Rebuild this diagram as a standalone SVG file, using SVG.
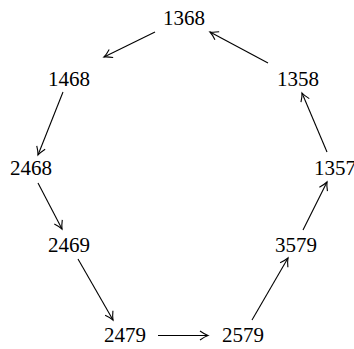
<svg xmlns="http://www.w3.org/2000/svg" width="354" height="349" viewBox="0 0 354 349">
<style>
text{font-family:"Liberation Serif","DejaVu Serif",serif;font-size:21px;fill:#000;text-anchor:middle}
.e{stroke:#000;stroke-width:1.1;fill:none;marker-end:url(#a)}
</style>
<defs>
<marker id="a" markerUnits="userSpaceOnUse" markerWidth="14" markerHeight="14" viewBox="-10 -7 14 14" refX="0" refY="0" orient="auto" overflow="visible">
<path d="M-8,-4.5 Q-3,-1 0,0 Q-3,1 -8,4.5" fill="none" stroke="#000" stroke-width="1.1"/>
</marker>
</defs>
<rect width="354" height="349" fill="#fff"/>
<g id="connectors">
<line class="e" x1="155" y1="32" x2="104" y2="57"/>
<line class="e" x1="63" y1="92" x2="38" y2="155"/>
<line class="e" x1="38" y1="183" x2="62" y2="229"/>
<line class="e" x1="78" y1="259" x2="113" y2="320"/>
<line class="e" x1="158" y1="335.5" x2="208" y2="335.5"/>
<line class="e" x1="252" y1="320" x2="288" y2="258"/>
<line class="e" x1="303" y1="230" x2="327" y2="182"/>
<line class="e" x1="327" y1="152" x2="302" y2="93"/>
<line class="e" x1="268" y1="63" x2="210" y2="32"/>
</g>
<g id="n1368"><text x="184" y="25">1368</text></g>
<g id="n1468"><text x="69" y="86">1468</text></g>
<g id="n1358"><text x="298" y="86">1358</text></g>
<g id="n2468"><text x="31" y="175">2468</text></g>
<g id="n1357"><text x="335" y="175">1357</text></g>
<g id="n2469"><text x="69" y="252">2469</text></g>
<g id="n3579"><text x="296" y="252">3579</text></g>
<g id="n2479"><text x="125" y="342">2479</text></g>
<g id="n2579"><text x="243" y="342">2579</text></g>
</svg>
